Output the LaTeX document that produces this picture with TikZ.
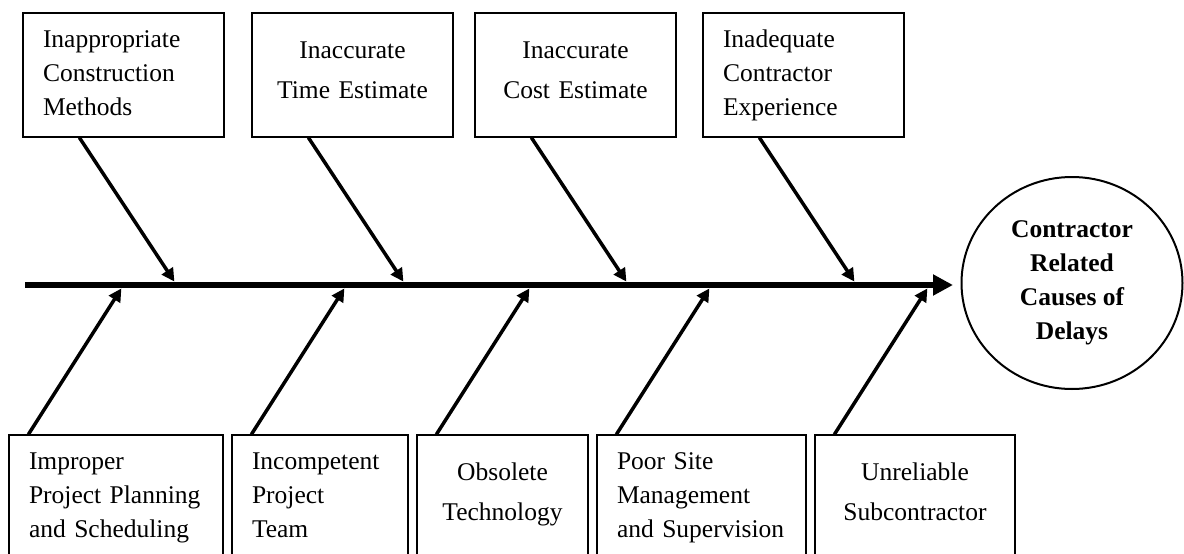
\documentclass[tikz,border=0pt]{standalone}
\usepackage{fontspec}
\setmainfont{Liberation Serif}
\usetikzlibrary{calc,arrows.meta,shapes.geometric}
\tikzstyle{cause}=[rectangle, draw=black, line width=1.2pt, fill=white, minimum height=124pt, inner xsep=20pt, inner ysep=0pt, font=\fontsize{25.5}{34}\selectfont, anchor=center]
\tikzstyle{effect}=[ellipse, draw=black, line width=2pt, minimum width=221pt, minimum height=212pt, inner sep=0pt, align=center, font=\fontsize{25.5}{34}\selectfont\bfseries]
\tikzstyle{spine}=[line width=6pt, -{Triangle[length=20pt,width=20pt]}]
\tikzstyle{branch}=[line width=3.5pt, -{Triangle[length=13pt,width=13pt]}]
\newcommand{\lowstrut}[0]{\rule[-16pt]{0pt}{16pt}}
\begin{document}
\begin{tikzpicture}[x=1pt,y=1pt]
	\useasboundingbox (0,0) rectangle (1184,-554);
	\clip (0,0) rectangle (1184,-554);

	% causes above the spine
	\node[cause, text width=161pt, align=left](inapp) at (123.5,-75){\strut Inappropriate\\Construction\\Methods\strut};
	\node[cause, text width=161pt, align=center](time) at (352.5,-75){\strut Inaccurate\\[6pt]Time Estimate\lowstrut};
	\node[cause, text width=161pt, align=center](cost) at (575.5,-75){\strut Inaccurate\\[6pt]Cost Estimate\lowstrut};
	\node[cause, text width=161pt, align=left](exper) at (803.5,-75){\strut Inadequate\\Contractor\\Experience\strut};

	% causes below the spine
	\node[cause, text width=174pt, align=left](plan) at (116,-497){\strut Improper\\Project Planning\\and Scheduling\strut};
	\node[cause, text width=136pt, align=left](team) at (320,-497){\strut Incompetent\\Project\\Team\strut};
	\node[cause, text width=131pt, align=center](tech) at (502.5,-497){\strut Obsolete\\[6pt]Technology\lowstrut};
	\node[cause, text width=169pt, align=left](site) at (701.5,-497){\strut Poor Site\\Management\\and Supervision\strut};
	\node[cause, text width=160pt, align=center](sub) at (915,-497){\strut Unreliable\\[6pt]Subcontractor\lowstrut};

	% head
	\node[effect](delay) at (1072,-283){Contractor\\Related\\Causes of\\Delays};

	\coordinate (tail) at (25,-285);
	\coordinate (head) at (953,-285);
	\draw[spine] (tail) -- (head);

	\foreach \b in {inapp,time,cost,exper}
		\draw[branch] ($(\b.south west)+(57,0)$) -- ++(95,-144);
	\foreach \b in {plan,team,tech,site,sub}
		\draw[branch] ($(\b.north west)+(20,0)$) -- ++(93,146);

\end{tikzpicture}
\end{document}
